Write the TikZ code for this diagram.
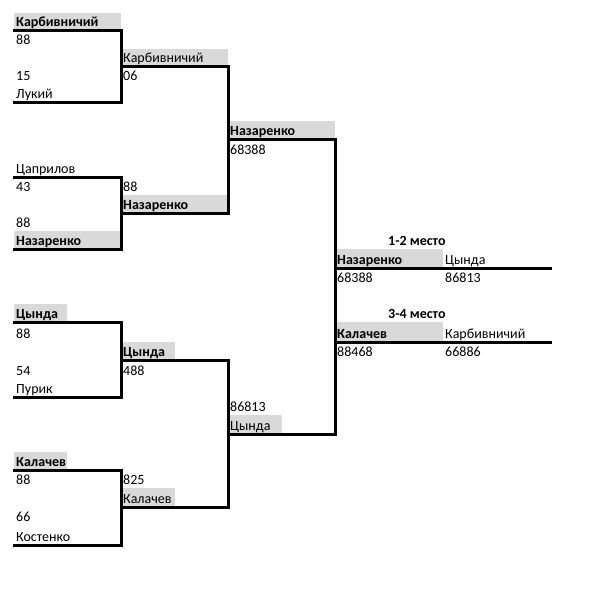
\documentclass[tikz,border=0pt]{standalone}
\usepackage{fontspec}
\setmainfont{Carlito}
\definecolor{cellgray}{RGB}{217,217,217}
\tikzset{
  txt/.style={anchor=base west, inner sep=0pt, font=\fontsize{14}{16}\selectfont},
  btxt/.style={txt, font=\fontsize{14}{16}\selectfont\bfseries},
  shade/.style={fill=cellgray},
  bline/.style={line width=3pt, line join=miter, line cap=rect},
}
\begin{document}
\begin{tikzpicture}[x=1pt,y=-1pt]
\useasboundingbox[fill=white] (0,0) rectangle (603,604);
% gray cells
\fill[shade] (14,13) rectangle (121,31);
\fill[shade] (14,231) rectangle (121,249);
\fill[shade] (14,304) rectangle (67,322);
\fill[shade] (14,452) rectangle (67,470);
\fill[shade] (121,49) rectangle (228,67);
\fill[shade] (121,195) rectangle (228,213);
\fill[shade] (121,342) rectangle (175,360);
\fill[shade] (121,488) rectangle (175,507);
\fill[shade] (228,121) rectangle (335,140);
\fill[shade] (228,415) rectangle (282,434);
\fill[shade] (335,249) rectangle (443,268);
\fill[shade] (335,322) rectangle (443,342);
% column A
\node[btxt] (a0) at (16,27) {Карбивничий};
\node[txt] (a1) at (16,45) {88};
\node[txt] (a3) at (16,81) {15};
\node[txt] (a4) at (16,99) {Лукий};
\node[txt] (a8) at (16,173) {Цаприлов};
\node[txt] (a9) at (16,191) {43};
\node[txt] (a11) at (16,227) {88};
\node[btxt] (a12) at (16,245) {Назаренко};
\node[btxt] (a16) at (16,318) {Цында};
\node[txt] (a17) at (16,338) {88};
\node[txt] (a19) at (16,375) {54};
\node[txt] (a20) at (16,393) {Пурик};
\node[btxt] (a24) at (16,466) {Калачев};
\node[txt] (a25) at (16,484) {88};
\node[txt] (a27) at (16,521) {66};
\node[txt] (a28) at (16,541) {Костенко};
% column B
\node[txt] (b2) at (123,63) {Карбивничий};
\node[txt] (b3) at (123,81) {06};
\node[txt] (b9) at (123,191) {88};
\node[btxt] (b10) at (123,209) {Назаренко};
\node[btxt] (b18) at (123,356) {Цында};
\node[txt] (b19) at (123,375) {488};
\node[txt] (b25) at (123,484) {825};
\node[txt] (b26) at (123,503) {Калачев};
% column C
\node[btxt] (c6) at (230,136) {Назаренко};
\node[txt] (c7) at (230,154) {68388};
\node[txt] (c21) at (230,411) {86813};
\node[txt] (c22) at (230,430) {Цында};
% finals
\node[btxt] (t1) at (388,245) {1-2 место};
\node[btxt] (d13) at (337,264) {Назаренко};
\node[txt] (e13) at (445,264) {Цында};
\node[txt] (d14) at (337,282) {68388};
\node[txt] (e14) at (445,282) {86813};
\node[btxt] (t2) at (388,318) {3-4 место};
\node[btxt] (d17) at (337,338) {Калачев};
\node[txt] (e17) at (445,338) {Карбивничий};
\node[txt] (d18) at (337,356) {88468};
\node[txt] (e18) at (445,356) {66886};
% bracket lines
\draw[bline] (14,31) -- (121,31) -- (121,103) -- (14,103);
\draw[bline] (14,177) -- (121,177) -- (121,249) -- (14,249);
\draw[bline] (14,322) -- (121,322) -- (121,397) -- (14,397);
\draw[bline] (14,470) -- (121,470) -- (121,545) -- (14,545);
\draw[bline] (121,67) -- (228,67) -- (228,213) -- (121,213);
\draw[bline] (121,360) -- (228,360) -- (228,507) -- (121,507);
\draw[bline] (228,140) -- (335,140) -- (335,434) -- (228,434);
\draw[bline] (335,268) -- (550,268);
\draw[bline] (335,342) -- (550,342);
\end{tikzpicture}
\end{document}
